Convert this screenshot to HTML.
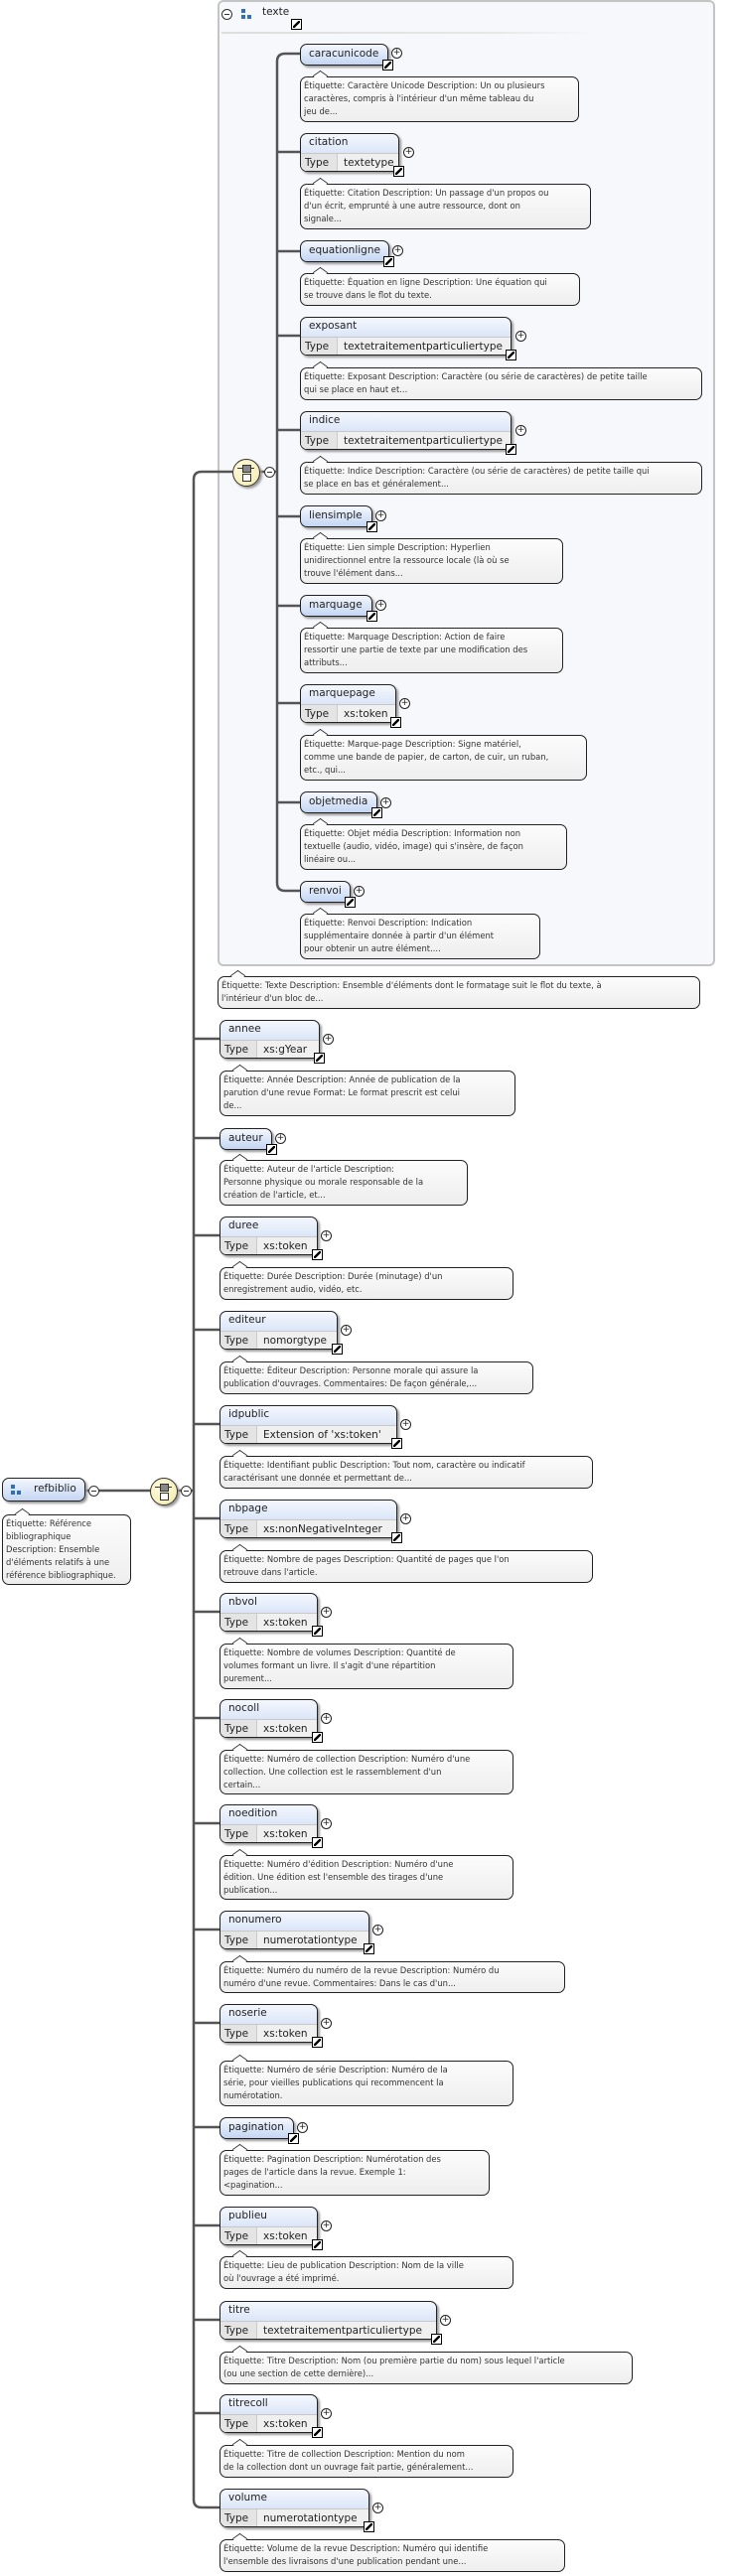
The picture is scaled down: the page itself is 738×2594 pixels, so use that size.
<!DOCTYPE html>
<html><head><meta charset="utf-8">
<style>
body{margin:0;width:738px;height:2594px;background:#fff;position:relative;overflow:hidden;font-family:"DejaVu Sans","Liberation Sans",sans-serif;}
.el{position:absolute;border:1px solid #222;border-radius:7px;background:linear-gradient(#f4f7fd,#c4d6f3);box-shadow:2px 2px 2px #999;box-sizing:border-box;font-size:10.5px;color:#222;}
.el .n{position:absolute;left:8px;top:3px;white-space:nowrap;}
.el.s{height:22px;}
.el.t{height:39px;}
.el.t .n{top:2px;}
.el.t .row{position:absolute;left:0;right:0;top:19px;bottom:0;background:#f0f0f0;border-top:1px solid #c8c8c8;border-radius:0 0 6px 6px;white-space:nowrap;}
.el.t .row .k{position:absolute;left:0;top:0;bottom:0;width:37px;background:#e4e4e4;border-right:1px solid #ccc;border-radius:0 0 0 6px;padding-left:4px;box-sizing:border-box;line-height:18px;}
.el.t .row .v{position:absolute;left:43px;top:0;line-height:18px;}
.lk{position:absolute;right:-6px;bottom:-6px;width:9px;height:9px;border:1px solid #000;background:#fff;}
.lk:after{content:"";position:absolute;left:1px;top:1px;width:7px;height:7px;background:linear-gradient(135deg,transparent 38%,#000 38%,#000 62%,transparent 62%);}
.pl{position:absolute;width:9px;height:9px;border:1px solid #222;border-radius:50%;background:#fff;font-size:9px;line-height:9px;text-align:center;color:#222;}
.doc{position:absolute;border:1px solid #222;border-radius:7px;background:linear-gradient(#fcfcfc,#eeeeee);box-sizing:border-box;font-size:8.4px;line-height:13px;color:#333;padding:2px 3px;white-space:nowrap;}
.doc:before{content:"";position:absolute;left:14px;top:-7px;width:10px;height:10px;background:#fcfcfc;border-left:1px solid #222;border-top:1px solid #222;transform:scaleY(.7) rotate(45deg);}
.seq{position:absolute;width:26px;height:26px;border:1px solid #333;border-radius:50%;background:radial-gradient(circle at 40% 35%,#fffbe0,#f3e9a8);box-shadow:2px 2px 2px #999;}
.seq i{position:absolute;left:9px;top:5px;width:7px;height:6px;background:#888;border:1px solid #333;}
.seq b{position:absolute;left:9px;top:14px;width:7px;height:6px;background:#fff;border:1px solid #333;}
.seq u{position:absolute;left:4px;top:8px;width:17px;height:1px;background:#333;}
.mn{position:absolute;width:9px;height:9px;border:1px solid #333;border-radius:50%;background:#fff;}
.mn:after{content:"";position:absolute;left:2px;top:4px;width:5px;height:1px;background:#333;}
</style></head><body>

<!-- texte container -->
<div style="position:absolute;left:219px;top:0px;width:501px;height:973px;border:2px solid #c4c4c4;border-radius:6px;background:#f7f8fc;box-sizing:border-box;"></div>
<div style="position:absolute;left:223px;top:32px;width:380px;height:2px;background:linear-gradient(90deg,#ddd,#e6e6e6 70%,transparent);"></div>
<div class="mn" style="left:223px;top:9px"></div>
<div style="position:absolute;left:243px;top:9px;width:4px;height:4px;background:#2f6fbf"></div>
<div style="position:absolute;left:243px;top:15px;width:4px;height:4px;background:#2f6fbf"></div>
<div style="position:absolute;left:249px;top:15px;width:4px;height:4px;background:#2f6fbf"></div>
<div style="position:absolute;left:264px;top:6px;font-size:10.5px;color:#222">texte</div>
<div class="lk" style="left:293px;top:19px;right:auto;bottom:auto"></div>

<svg width="738" height="2594" style="position:absolute;left:0;top:0" fill="none" stroke="#555" stroke-width="2.5">
<path d="M302,54 H287 Q279,54 279,62 V889 Q279,897 287,897 H302"/>
<path d="M279,153H302M279,253H302M279,338H302M279,433H302M279,520H302M279,610H302M279,708H302M279,808H302"/>
<path d="M260,475H279"/>
<path d="M234,475 H203 Q195,475 195,483 V2517 Q195,2525 203,2525 H221"/>
<path d="M195,1046H221M195,1146H221M195,1244H221M195,1339H221M195,1434H221M195,1529H221M195,1623H221M195,1730H221M195,1836H221M195,1943H221M195,2037H221M195,2142H221M195,2241H221M195,2336H221M195,2430H221"/>
<path d="M86,1501H195"/>
</svg>

<div class="seq" style="left:234px;top:462px"><u></u><i></i><b></b></div>
<div class="mn" style="left:266px;top:470px"></div>

<!-- inner elements -->
<div class="el s" style="left:302px;top:44px;width:89px"><span class="n">caracunicode</span><span class="lk"></span></div><div class="pl" style="left:394px;top:48px">+</div>
<div class="doc" style="left:302px;top:77px;width:281px;height:46px">Étiquette: Caractère Unicode Description: Un ou plusieurs<br>caractères, compris à l'intérieur d'un même tableau du<br>jeu de...</div>

<div class="el t" style="left:302px;top:134px;width:100px"><span class="n">citation</span><div class="row"><span class="k">Type</span><span class="v">textetype</span></div><span class="lk"></span></div><div class="pl" style="left:406px;top:148px">+</div>
<div class="doc" style="left:302px;top:185px;width:293px;height:46px">Étiquette: Citation Description: Un passage d'un propos ou<br>d'un écrit, emprunté à une autre ressource, dont on<br>signale...</div>

<div class="el s" style="left:302px;top:242px;width:90px"><span class="n">equationligne</span><span class="lk"></span></div><div class="pl" style="left:395px;top:247px">+</div>
<div class="doc" style="left:302px;top:275px;width:282px;height:33px">Étiquette: Équation en ligne Description: Une équation qui<br>se trouve dans le flot du texte.</div>

<div class="el t" style="left:302px;top:319px;width:213px"><span class="n">exposant</span><div class="row"><span class="k">Type</span><span class="v">textetraitementparticuliertype</span></div><span class="lk"></span></div><div class="pl" style="left:519px;top:333px">+</div>
<div class="doc" style="left:302px;top:370px;width:405px;height:33px">Étiquette: Exposant Description: Caractère (ou série de caractères) de petite taille<br>qui se place en haut et...</div>

<div class="el t" style="left:302px;top:414px;width:213px"><span class="n">indice</span><div class="row"><span class="k">Type</span><span class="v">textetraitementparticuliertype</span></div><span class="lk"></span></div><div class="pl" style="left:519px;top:428px">+</div>
<div class="doc" style="left:302px;top:465px;width:405px;height:33px">Étiquette: Indice Description: Caractère (ou série de caractères) de petite taille qui<br>se place en bas et généralement...</div>

<div class="el s" style="left:302px;top:509px;width:73px"><span class="n">liensimple</span><span class="lk"></span></div><div class="pl" style="left:378px;top:514px">+</div>
<div class="doc" style="left:302px;top:542px;width:265px;height:46px">Étiquette: Lien simple Description: Hyperlien<br>unidirectionnel entre la ressource locale (là où se<br>trouve l'élément dans...</div>

<div class="el s" style="left:302px;top:599px;width:73px"><span class="n">marquage</span><span class="lk"></span></div><div class="pl" style="left:378px;top:604px">+</div>
<div class="doc" style="left:302px;top:632px;width:265px;height:46px">Étiquette: Marquage Description: Action de faire<br>ressortir une partie de texte par une modification des<br>attributs...</div>

<div class="el t" style="left:302px;top:689px;width:97px"><span class="n">marquepage</span><div class="row"><span class="k">Type</span><span class="v">xs:token</span></div><span class="lk"></span></div><div class="pl" style="left:402px;top:703px">+</div>
<div class="doc" style="left:302px;top:740px;width:289px;height:46px">Étiquette: Marque-page Description: Signe matériel,<br>comme une bande de papier, de carton, de cuir, un ruban,<br>etc., qui...</div>

<div class="el s" style="left:302px;top:797px;width:78px"><span class="n">objetmedia</span><span class="lk"></span></div><div class="pl" style="left:383px;top:803px">+</div>
<div class="doc" style="left:302px;top:830px;width:269px;height:46px">Étiquette: Objet média Description: Information non<br>textuelle (audio, vidéo, image) qui s'insère, de façon<br>linéaire ou...</div>

<div class="el s" style="left:302px;top:887px;width:51px"><span class="n">renvoi</span><span class="lk"></span></div><div class="pl" style="left:356px;top:892px">+</div>
<div class="doc" style="left:302px;top:920px;width:242px;height:46px">Étiquette: Renvoi Description: Indication<br>supplémentaire donnée à partir d'un élément<br>pour obtenir un autre élément....</div>

<div class="doc" style="left:219px;top:983px;width:486px;height:33px">Étiquette: Texte Description: Ensemble d'éléments dont le formatage suit le flot du texte, à<br>l'intérieur d'un bloc de...</div>

<!-- outer elements -->
<div class="el t" style="left:221px;top:1027px;width:101px"><span class="n">annee</span><div class="row"><span class="k">Type</span><span class="v">xs:gYear</span></div><span class="lk"></span></div><div class="pl" style="left:325px;top:1041px">+</div>
<div class="doc" style="left:221px;top:1078px;width:298px;height:46px">Étiquette: Année Description: Année de publication de la<br>parution d'une revue Format: Le format prescrit est celui<br>de...</div>

<div class="el s" style="left:221px;top:1136px;width:53px"><span class="n">auteur</span><span class="lk"></span></div><div class="pl" style="left:277px;top:1141px">+</div>
<div class="doc" style="left:221px;top:1168px;width:250px;height:46px">Étiquette: Auteur de l'article Description:<br>Personne physique ou morale responsable de la<br>création de l'article, et...</div>

<div class="el t" style="left:221px;top:1225px;width:99px"><span class="n">duree</span><div class="row"><span class="k">Type</span><span class="v">xs:token</span></div><span class="lk"></span></div><div class="pl" style="left:323px;top:1239px">+</div>
<div class="doc" style="left:221px;top:1276px;width:296px;height:33px">Étiquette: Durée Description: Durée (minutage) d'un<br>enregistrement audio, vidéo, etc.</div>

<div class="el t" style="left:221px;top:1320px;width:119px"><span class="n">editeur</span><div class="row"><span class="k">Type</span><span class="v">nomorgtype</span></div><span class="lk"></span></div><div class="pl" style="left:343px;top:1334px">+</div>
<div class="doc" style="left:221px;top:1371px;width:316px;height:33px">Étiquette: Éditeur Description: Personne morale qui assure la<br>publication d'ouvrages. Commentaires: De façon générale,...</div>

<div class="el t" style="left:221px;top:1415px;width:179px"><span class="n">idpublic</span><div class="row"><span class="k">Type</span><span class="v">Extension of 'xs:token'</span></div><span class="lk"></span></div><div class="pl" style="left:403px;top:1429px">+</div>
<div class="doc" style="left:221px;top:1466px;width:376px;height:33px">Étiquette: Identifiant public Description: Tout nom, caractère ou indicatif<br>caractérisant une donnée et permettant de...</div>

<div class="el t" style="left:221px;top:1510px;width:179px"><span class="n">nbpage</span><div class="row"><span class="k">Type</span><span class="v">xs:nonNegativeInteger</span></div><span class="lk"></span></div><div class="pl" style="left:403px;top:1524px">+</div>
<div class="doc" style="left:221px;top:1561px;width:376px;height:33px">Étiquette: Nombre de pages Description: Quantité de pages que l'on<br>retrouve dans l'article.</div>

<div class="el t" style="left:221px;top:1604px;width:99px"><span class="n">nbvol</span><div class="row"><span class="k">Type</span><span class="v">xs:token</span></div><span class="lk"></span></div><div class="pl" style="left:323px;top:1618px">+</div>
<div class="doc" style="left:221px;top:1655px;width:296px;height:46px">Étiquette: Nombre de volumes Description: Quantité de<br>volumes formant un livre. Il s'agit d'une répartition<br>purement...</div>

<div class="el t" style="left:221px;top:1711px;width:99px"><span class="n">nocoll</span><div class="row"><span class="k">Type</span><span class="v">xs:token</span></div><span class="lk"></span></div><div class="pl" style="left:323px;top:1725px">+</div>
<div class="doc" style="left:221px;top:1762px;width:296px;height:45px">Étiquette: Numéro de collection Description: Numéro d'une<br>collection. Une collection est le rassemblement d'un<br>certain...</div>

<div class="el t" style="left:221px;top:1817px;width:99px"><span class="n">noedition</span><div class="row"><span class="k">Type</span><span class="v">xs:token</span></div><span class="lk"></span></div><div class="pl" style="left:323px;top:1831px">+</div>
<div class="doc" style="left:221px;top:1868px;width:296px;height:45px">Étiquette: Numéro d'édition Description: Numéro d'une<br>édition. Une édition est l'ensemble des tirages d'une<br>publication...</div>

<div class="el t" style="left:221px;top:1924px;width:151px"><span class="n">nonumero</span><div class="row"><span class="k">Type</span><span class="v">numerotationtype</span></div><span class="lk"></span></div><div class="pl" style="left:375px;top:1938px">+</div>
<div class="doc" style="left:221px;top:1975px;width:348px;height:32px">Étiquette: Numéro du numéro de la revue Description: Numéro du<br>numéro d'une revue. Commentaires: Dans le cas d'un...</div>

<div class="el t" style="left:221px;top:2018px;width:99px"><span class="n">noserie</span><div class="row"><span class="k">Type</span><span class="v">xs:token</span></div><span class="lk"></span></div><div class="pl" style="left:323px;top:2032px">+</div>
<div class="doc" style="left:221px;top:2075px;width:296px;height:46px">Étiquette: Numéro de série Description: Numéro de la<br>série, pour vieilles publications qui recommencent la<br>numérotation.</div>

<div class="el s" style="left:221px;top:2132px;width:75px"><span class="n">pagination</span><span class="lk"></span></div><div class="pl" style="left:299px;top:2137px">+</div>
<div class="doc" style="left:221px;top:2165px;width:272px;height:46px">Étiquette: Pagination Description: Numérotation des<br>pages de l'article dans la revue. Exemple 1:<br>&lt;pagination...</div>

<div class="el t" style="left:221px;top:2222px;width:99px"><span class="n">publieu</span><div class="row"><span class="k">Type</span><span class="v">xs:token</span></div><span class="lk"></span></div><div class="pl" style="left:323px;top:2236px">+</div>
<div class="doc" style="left:221px;top:2272px;width:296px;height:33px">Étiquette: Lieu de publication Description: Nom de la ville<br>où l'ouvrage a été imprimé.</div>

<div class="el t" style="left:221px;top:2317px;width:219px"><span class="n">titre</span><div class="row"><span class="k">Type</span><span class="v">textetraitementparticuliertype</span></div><span class="lk"></span></div><div class="pl" style="left:443px;top:2331px">+</div>
<div class="doc" style="left:221px;top:2368px;width:416px;height:33px">Étiquette: Titre Description: Nom (ou première partie du nom) sous lequel l'article<br>(ou une section de cette dernière)...</div>

<div class="el t" style="left:221px;top:2411px;width:99px"><span class="n">titrecoll</span><div class="row"><span class="k">Type</span><span class="v">xs:token</span></div><span class="lk"></span></div><div class="pl" style="left:323px;top:2425px">+</div>
<div class="doc" style="left:221px;top:2462px;width:296px;height:33px">Étiquette: Titre de collection Description: Mention du nom<br>de la collection dont un ouvrage fait partie, généralement...</div>

<div class="el t" style="left:221px;top:2506px;width:151px"><span class="n">volume</span><div class="row"><span class="k">Type</span><span class="v">numerotationtype</span></div><span class="lk"></span></div><div class="pl" style="left:375px;top:2520px">+</div>
<div class="doc" style="left:221px;top:2557px;width:348px;height:33px">Étiquette: Volume de la revue Description: Numéro qui identifie<br>l'ensemble des livraisons d'une publication pendant une...</div>

<!-- root -->
<div class="el" style="left:2px;top:1488px;width:84px;height:24px;"><div style="position:absolute;left:8px;top:6px;width:4px;height:4px;background:#2f6fbf"></div><div style="position:absolute;left:8px;top:12px;width:4px;height:4px;background:#2f6fbf"></div><div style="position:absolute;left:14px;top:12px;width:4px;height:4px;background:#2f6fbf"></div><span class="n" style="left:31px;top:4px">refbiblio</span></div>
<div class="mn" style="left:89px;top:1496px"></div>
<div class="seq" style="left:151px;top:1488px"><u></u><i></i><b></b></div>
<div class="mn" style="left:182px;top:1496px"></div>
<div class="doc" style="left:2px;top:1525px;width:130px;height:71px;white-space:normal">Étiquette: Référence<br>bibliographique<br>Description: Ensemble<br>d'éléments relatifs à une<br>référence bibliographique.</div>

</body></html>
